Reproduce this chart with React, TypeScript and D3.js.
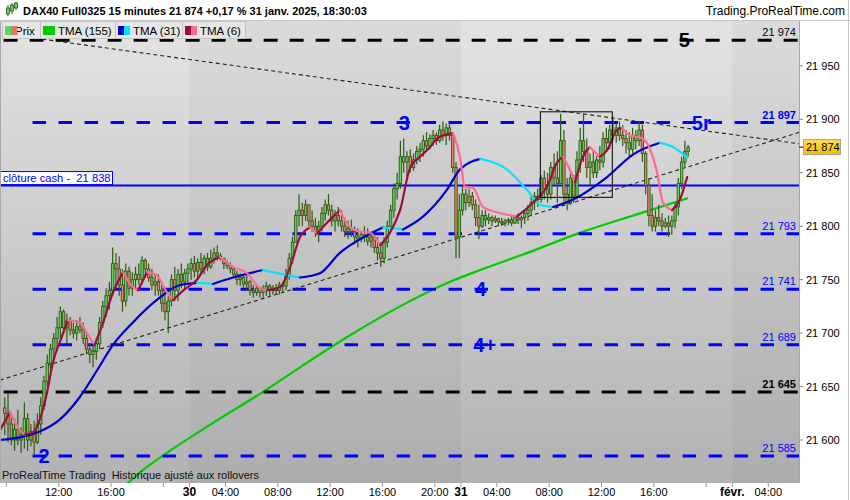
import React, { useEffect } from 'react';
import * as d3 from 'd3';

// ---------- DATA ----------
const FIRST_BAR = 26; // bar index (day 29 01:15 = 0, 83 bars per session)
const FIRST_OPEN = 21630;
const closes = [
  21625, 21615, 21600, 21610, 21600, 21605, 21620, 21600, 21608, 21598,
  21615, 21632, 21655, 21672, 21685, 21695, 21705, 21720, 21705, 21712,
  21703, 21700, 21706, 21703, 21695, 21685, 21680, 21683, 21690, 21710,
  21725, 21735, 21740, 21765, 21760, 21745, 21730, 21758, 21742, 21750,
  21755, 21750, 21768, 21760, 21752, 21745, 21748, 21740, 21728, 21720,
  21730, 21750, 21740, 21755, 21748, 21756, 21760, 21765, 21758, 21766,
  21760, 21770, 21762, 21770, 21775, 21772, 21770, 21765, 21763, 21760,
  21755, 21750, 21752, 21746, 21748, 21740, 21738, 21742, 21738, 21740,
  21744, 21740, 21742, 21740, 21745, 21744, 21755, 21770, 21785, 21810,
  21815, 21810, 21820, 21805, 21800, 21795, 21800, 21812, 21820, 21815,
  21805, 21810, 21805, 21800, 21795, 21798, 21795, 21790, 21788, 21792,
  21790, 21786, 21790, 21780, 21775, 21770, 21785, 21800, 21815, 21835,
  21840, 21865, 21860, 21865, 21855, 21862, 21870, 21872, 21880, 21875,
  21882, 21885, 21880, 21890, 21885, 21892, 21885, 21855, 21790, 21815,
  21830, 21822, 21828, 21820, 21808, 21800, 21810, 21806, 21808, 21805,
  21807, 21804, 21803, 21805, 21806, 21803, 21808, 21806, 21808, 21812,
  21815, 21822, 21828, 21825, 21845, 21835, 21830, 21855, 21845, 21840,
  21880, 21830, 21822, 21845, 21828, 21862, 21880, 21870, 21855, 21860,
  21850, 21862, 21860, 21882, 21878, 21890, 21885, 21892, 21885, 21882,
  21878, 21872, 21885, 21880, 21890, 21868, 21838, 21810, 21800, 21808,
  21805, 21800, 21803, 21800, 21805, 21818, 21840, 21860, 21870, 21874,
];
const highs = [
  21640, 21643, 21625, 21620, 21628, 21612, 21635, 21625, 21615, 21618,
  21625, 21640, 21660, 21680, 21690, 21700, 21715, 21725, 21722, 21718,
  21715, 21710, 21712, 21715, 21710, 21700, 21690, 21688, 21695, 21715,
  21730, 21742, 21748, 21780, 21775, 21772, 21760, 21765, 21762, 21757,
  21762, 21765, 21772, 21770, 21765, 21760, 21755, 21755, 21745, 21740,
  21735, 21755, 21762, 21760, 21765, 21760, 21765, 21770, 21772, 21770,
  21775, 21773, 21775, 21778, 21780, 21782, 21775, 21770, 21768, 21766,
  21762, 21758, 21756, 21755, 21754, 21750, 21745, 21745, 21742, 21745,
  21748, 21746, 21745, 21746, 21748, 21748, 21760, 21775, 21790, 21815,
  21830, 21822, 21825, 21820, 21815, 21808, 21805, 21818, 21825, 21830,
  21820, 21815, 21818, 21815, 21808, 21805, 21806, 21800, 21798, 21795,
  21800, 21798, 21795, 21793, 21790, 21785, 21790, 21805, 21820, 21840,
  21850, 21880, 21882, 21870, 21872, 21868, 21875, 21878, 21885, 21888,
  21886, 21890, 21888, 21895, 21898, 21896, 21897, 21888, 21860, 21830,
  21838, 21835, 21835, 21832, 21825, 21820, 21815, 21815, 21812, 21810,
  21810, 21808, 21808, 21807, 21808, 21810, 21810, 21812, 21810, 21815,
  21820, 21828, 21832, 21835, 21848, 21852, 21850, 21860, 21868, 21870,
  21905, 21890, 21845, 21850, 21848, 21870, 21892, 21905, 21882, 21868,
  21872, 21866, 21875, 21888, 21892, 21895, 21900, 21896, 21898, 21895,
  21890, 21888, 21892, 21890, 21898, 21895, 21870, 21845, 21830, 21815,
  21820, 21812, 21808, 21810, 21810, 21822, 21845, 21865, 21880, 21876,
];
const lows = [
  21605, 21598, 21595, 21590, 21595, 21588, 21592, 21590, 21594, 21585,
  21596, 21605, 21628, 21650, 21660, 21675, 21685, 21695, 21700, 21690,
  21698, 21695, 21693, 21700, 21690, 21680, 21672, 21668, 21675, 21685,
  21705, 21715, 21722, 21735, 21740, 21735, 21720, 21725, 21735, 21735,
  21742, 21745, 21748, 21752, 21748, 21740, 21735, 21735, 21720, 21712,
  21700, 21725, 21730, 21730, 21742, 21740, 21745, 21750, 21752, 21750,
  21755, 21755, 21758, 21760, 21765, 21768, 21768, 21760, 21760, 21756,
  21752, 21745, 21744, 21742, 21740, 21735, 21733, 21735, 21733, 21733,
  21735, 21735, 21736, 21736, 21736, 21738, 21740, 21750, 21765, 21785,
  21800, 21800, 21805, 21800, 21795, 21790, 21785, 21795, 21805, 21810,
  21800, 21795, 21800, 21795, 21790, 21788, 21790, 21783, 21780, 21785,
  21785, 21782, 21780, 21775, 21768, 21762, 21765, 21780, 21795, 21808,
  21825, 21835, 21850, 21845, 21850, 21852, 21858, 21860, 21865, 21870,
  21872, 21875, 21876, 21878, 21880, 21876, 21880, 21850, 21770, 21770,
  21810, 21815, 21818, 21815, 21800, 21788, 21798, 21800, 21802, 21800,
  21803, 21800, 21800, 21800, 21801, 21800, 21802, 21802, 21798, 21802,
  21805, 21810, 21815, 21818, 21822, 21825, 21822, 21825, 21838, 21822,
  21840, 21820, 21815, 21820, 21822, 21825, 21850, 21860, 21845, 21838,
  21845, 21845, 21852, 21855, 21870, 21872, 21880, 21878, 21880, 21875,
  21868, 21865, 21868, 21872, 21875, 21860, 21830, 21800, 21795, 21795,
  21800, 21795, 21798, 21790, 21792, 21798, 21810, 21835, 21855, 21865,
];

// moving averages: [bar index, price]
const tma155: [number, number][] = [
  [61.3, 21553], [68.3, 21572], [75.6, 21588], [89.7, 21616], [105.0, 21645],
  [116.3, 21668], [131.6, 21698], [146.9, 21725], [162.2, 21748], [171.4, 21759],
  [186.7, 21776], [202.0, 21794], [220.3, 21812], [234.7, 21826],
];
const tma31: [number, number][] = [
  [24.5, 21600], [36.7, 21608], [42.8, 21619], [48.9, 21640], [54.2, 21665],
  [59.1, 21689], [65.2, 21710], [72.5, 21731], [79.6, 21745], [84.8, 21747],
  [89.7, 21746], [95.8, 21752], [104.9, 21759], [111.1, 21755], [116.3, 21752],
  [122.4, 21756], [128.5, 21775], [131.6, 21782], [141.7, 21799], [147.8, 21797],
  [153.9, 21809], [161.2, 21834], [165.2, 21853], [171.4, 21863], [179.6, 21853],
  [185.7, 21834], [189.7, 21820], [193.7, 21818], [199.8, 21825], [210.2, 21846],
  [218.1, 21867], [226.4, 21878], [230.4, 21874], [234.7, 21864],
];
const tma6: [number, number][] = [
  [24.5, 21609], [27.6, 21626], [30.7, 21609], [32.2, 21605], [34.7, 21607],
  [36.7, 21619], [38.9, 21644], [40.7, 21672], [43.5, 21697], [45.3, 21712],
  [49.0, 21710], [51.1, 21700], [53.5, 21689], [56.1, 21710], [59.1, 21738],
  [62.2, 21757], [65.2, 21743], [66.8, 21740], [69.5, 21757], [72.5, 21754],
  [75.6, 21738], [77.5, 21731], [80.6, 21740], [84.8, 21750], [87.9, 21764],
  [91.8, 21771], [95.8, 21762], [100.1, 21756], [104.0, 21742], [106.2, 21740],
  [110.2, 21743], [113.3, 21762], [116.3, 21790], [119.4, 21799], [121.5, 21793],
  [126.4, 21809], [128.5, 21815], [131.6, 21799], [134.6, 21795], [137.7, 21794],
  [140.8, 21782], [143.8, 21794], [146.9, 21815], [150.0, 21855], [153.0, 21865],
  [156.1, 21874], [158.2, 21882], [163.1, 21887], [165.2, 21865], [166.7, 21837],
  [169.2, 21836], [172.2, 21818], [176.5, 21813], [182.6, 21809], [187.5, 21822],
  [191.8, 21837], [194.8, 21859], [196.7, 21865], [198.8, 21853], [200.4, 21841],
  [202.8, 21865], [204.9, 21874], [208.0, 21865], [210.2, 21871], [213.2, 21890],
  [214.8, 21892], [217.2, 21885], [220.3, 21883], [222.4, 21878], [225.5, 21850],
  [227.3, 21822], [230.1, 21815], [232.5, 21825], [234.7, 21846],
];

// horizontal levels
const levelPrices = [21974, 21897, 21793, 21741, 21689, 21645, 21585];
const levelIsBlack = [true, false, false, false, false, true, false];
const levelBoldTag = [false, true, false, false, false, true, false];
const levelStartBar = [-30, 34.5, 34.5, 34.5, 34.5, -30, 34.5];
const cashClose = 21838;
const lastPrice = 21874;

// wave labels: [text, bar index, price]
const waveText = ['5', '3', '5r', '4', '4+', '2'];
const waveBar = [233.8, 148.2, 239.0, 171.5, 172.8, 38.0];
const wavePrice = [21974, 21897, 21897, 21741, 21689, 21585];

// trend lines [bar, price]
const trendUp: [number, number][] = [[24.5, 21656], [269.2, 21888]];
const trendDown: [number, number][] = [[37.5, 21975], [269.2, 21877]];
const boxBars = [189.8, 211.8];
const boxPrices = [21907, 21827];

// x ticks: session day, hour, label
const tickDay = [0, 0, 0, 0, 1, 1, 1, 1, 1, 1, 2, 2, 2, 2, 2, 2, 3, 3];
const tickHour = [8, 12, 16, 20, 1.25, 4, 8, 12, 16, 20, 1.25, 4, 8, 12, 16, 20, 1.25, 4];
const tickLabel = ['', '12:00', '16:00', '', '30', '04:00', '08:00', '12:00', '16:00', '20:00', '31', '04:00', '08:00', '12:00', '16:00', '', 'févr.', '04:00'];
const yTicks = [21600, 21650, 21700, 21750, 21800, 21850, 21900, 21950];

const legendNames = ['Prix', 'TMA (155)', 'TMA (31)', 'TMA (6)'];

// ---------- LAYOUT ----------
const W = 850, H = 500;
const PL = 0, PR = 799, PT = 20, PB = 483;
const BARS_PER_DAY = 83;
const FONT = '"Liberation Sans", Arial, sans-serif';
const NB = '\u00a0';

const x = d3.scaleLinear().domain([0, BARS_PER_DAY]).range([-81.9, 189.5]);
const y = d3.scaleLinear().domain([21600, 21900]).range([440, 119.3]);
const bx = (i: number) => x(i + 0.5);
const fmt = (v: number) => `${Math.floor(v / 1000)}${NB}${String(Math.round(v) % 1000).padStart(3, '0')}`;

function splitRuns(pts: [number, number][]) {
  const out: { up: boolean; pts: [number, number][] }[] = [];
  let cur: [number, number][] = [pts[0]];
  let sign: boolean | null = null;
  for (let k = 1; k < pts.length; k++) {
    const s = pts[k][1] >= pts[k - 1][1];
    if (sign === null || s === sign) { cur.push(pts[k]); sign = s; }
    else { out.push({ up: sign, pts: cur }); cur = [pts[k - 1], pts[k]]; sign = s; }
  }
  out.push({ up: sign as boolean, pts: cur });
  return out;
}

const lineGen = d3.line<[number, number]>().x(d => bx(d[0])).y(d => y(d[1])).curve(d3.curveMonotoneX);

function MA({ pts, upColor, downColor, w }: { pts: [number, number][]; upColor: string; downColor: string; w: number }) {
  const runs = splitRuns(pts);
  return (
    <g>
      {runs.map((r, k) => (
        <path key={k} d={lineGen(r.pts) || ''} fill="none" stroke={r.up ? upColor : downColor} strokeWidth={w} strokeLinejoin="round" strokeLinecap="round" />
      ))}
    </g>
  );
}

export default function App() {
  useEffect(() => { document.body.style.margin = '0'; }, []);

  const candles = closes.map((c, k) => {
    const i = FIRST_BAR + k;
    const o = k === 0 ? FIRST_OPEN : closes[k - 1];
    return { i, o, c, h: highs[k], l: lows[k] };
  });

  const blueTag = '#0000ff';
  const dayBands = [
    { from: 83, to: 166 },
    { from: 249, to: 332 },
  ];

  const legendX = [2, 40, 115, 182];
  const legendW = [38, 75, 67, 63];
  const swatches: string[][] = [['#5cd65c', '#e8736a'], ['#00cc00', '#00cc00'], ['#0000cc', '#00e5ff'], ['#9e0b3c', '#ff6a90']];

  return (
    <svg width={W} height={H} style={{ position: 'absolute', left: 0, top: 0, display: 'block', fontFamily: FONT }}>
      <defs>
        <linearGradient id="bg" x1="0" y1="0" x2="0" y2="1">
          <stop offset="0" stopColor="#e3e3e3" />
          <stop offset="1" stopColor="#b2b2b2" />
        </linearGradient>
        <linearGradient id="gold" x1="0" y1="0" x2="0" y2="1">
          <stop offset="0" stopColor="#ffe14d" />
          <stop offset="1" stopColor="#f5b800" />
        </linearGradient>
        <clipPath id="plot"><rect x={PL} y={PT} width={PR - PL} height={PB - PT} /></clipPath>
      </defs>
      <rect x={0} y={0} width={W} height={H} fill="#ffffff" />
      {/* plot background */}
      <rect x={PL} y={PT} width={PR - PL} height={PB - PT} fill="url(#bg)" />
      <g clipPath="url(#plot)">
        {dayBands.map((b, k) => (
          <rect key={k} x={x(b.from)} y={PT} width={x(b.to) - x(b.from)} height={PB - PT} fill="#000" opacity={0.03} />
        ))}
        {/* green TMA */}
        <MA pts={tma155} upColor="#00cc00" downColor="#00cc00" w={2.2} />
        {/* horizontal levels */}
        {levelPrices.map((p, k) => (
          <line key={k} x1={bx(levelStartBar[k])} x2={PR} y1={y(p)} y2={y(p)}
            stroke={levelIsBlack[k] ? '#000' : blueTag} strokeWidth={3}
            strokeDasharray={levelIsBlack[k] ? '14 12' : '13.5 12.5'} />
        ))}
        <line x1={PL} x2={PR} y1={y(cashClose)} y2={y(cashClose)} stroke={blueTag} strokeWidth={2} />
        {/* trend lines */}
        <line x1={bx(trendUp[0][0])} y1={y(trendUp[0][1])} x2={bx(trendUp[1][0])} y2={y(trendUp[1][1])} stroke="#222" strokeWidth={1.1} strokeDasharray="4 3" />
        <line x1={bx(trendDown[0][0])} y1={y(trendDown[0][1])} x2={bx(trendDown[1][0])} y2={y(trendDown[1][1])} stroke="#222" strokeWidth={1.1} strokeDasharray="4 3" />
        {/* candles */}
        {candles.map(d => {
          const cx = bx(d.i);
          const up = d.c >= d.o;
          const top = y(Math.max(d.o, d.c));
          const bot = y(Math.min(d.o, d.c));
          return (
            <g key={d.i}>
              <line x1={cx} x2={cx} y1={y(d.h)} y2={y(d.l)} stroke="#2e5a14" strokeWidth={1.2} />
              <rect x={cx - 1.2} y={top} width={2.4} height={Math.max(1, bot - top)} fill={up ? '#5cd65c' : '#ee7d6e'} stroke="#2e5a14" strokeWidth={0.9} />
            </g>
          );
        })}
        <MA pts={tma31} upColor="#0000cc" downColor="#00e5ff" w={2.2} />
        <MA pts={tma6} upColor="#9e0b3c" downColor="#ff6a90" w={2.2} />
        {/* box */}
        <rect x={bx(boxBars[0])} y={y(boxPrices[0])} width={bx(boxBars[1]) - bx(boxBars[0])} height={y(boxPrices[1]) - y(boxPrices[0])} fill="none" stroke="#000" strokeWidth={1} />
        {/* wave labels */}
        {waveText.map((t, k) => (
          <text key={k} x={bx(waveBar[k])} y={y(wavePrice[k]) + 7} textAnchor="middle" fontSize={20} fontWeight="bold" fill={t === '5' ? '#000' : blueTag}>{t}</text>
        ))}
        {/* level tags */}
        {levelPrices.map((p, k) => (
          <text key={k} x={796} y={y(p) - 4} textAnchor="end" fontSize={11} fontWeight={levelBoldTag[k] ? 'bold' : 'normal'} fill={levelIsBlack[k] ? '#000' : blueTag}>{fmt(p)}</text>
        ))}
        {/* cash close tag */}
        <rect x={0.5} y={y(cashClose) - 14} width={112} height={13} fill="#fff" stroke={blueTag} strokeWidth={1} />
        <text x={3} y={y(cashClose) - 3.5} fontSize={11.2} fill={blueTag}>{`clôture cash -${NB}${NB}${fmt(cashClose)}`}</text>
        {/* bottom note */}
        <text x={2} y={479} fontSize={11} fill="#111">{`ProRealTime Trading${NB}${NB}Historique ajusté aux rollovers`}</text>
      </g>
      {/* frame lines */}
      <line x1={PR + 0.5} x2={PR + 0.5} y1={PT} y2={PB} stroke="#a8a8a8" />
      <line x1={0.5} x2={0.5} y1={PT} y2={PB} stroke="#a8a8a8" />
      <line x1={0} x2={W} y1={PT + 0.5} y2={PT + 0.5} stroke="#c8c8c8" />
      <line x1={W - 1.5} x2={W - 1.5} y1={0} y2={H} stroke="#c8c8c8" />
      {/* right axis */}
      {yTicks.map(v => (
        <g key={v}>
          <line x1={PR} x2={PR + 4} y1={y(v)} y2={y(v)} stroke="#888" />
          <text x={806} y={y(v) + 4} fontSize={11} fill="#000">{fmt(v)}</text>
        </g>
      ))}
      <line x1={PR} x2={PR + 5} y1={y(lastPrice)} y2={y(lastPrice)} stroke="#000" />
      <rect x={803.5} y={y(lastPrice) - 7.5} width={37} height={15} fill="url(#gold)" stroke="#a0a0a0" />
      <text x={806} y={y(lastPrice) + 4} fontSize={11} fill="#000">{fmt(lastPrice)}</text>
      {/* bottom axis */}
      {tickDay.map((dd, k) => {
        const px = x(dd * BARS_PER_DAY + (tickHour[k] - 1.25) * 4);
        if (px < 0 || px > PR) return null;
        const bold = tickHour[k] === 1.25;
        return (
          <g key={k}>
            <line x1={px} x2={px} y1={PB} y2={PB + 4} stroke="#999" />
            {tickLabel[k] && (
              <text x={px} y={496} textAnchor="middle" fontSize={bold ? 12 : 11} fontWeight={bold ? 'bold' : 'normal'} fill="#000">{tickLabel[k]}</text>
            )}
          </g>
        );
      })}
      {/* header */}
      <g>
        <line x1={8} x2={8} y1={5} y2={16} stroke="#2e5a14" />
        <rect x={6.5} y={8} width={3} height={6} fill="#5cd65c" stroke="#2e5a14" strokeWidth={0.8} />
        <line x1={12} x2={12} y1={3} y2={14} stroke="#2e5a14" />
        <rect x={10.5} y={5} width={3} height={6} fill="#5cd65c" stroke="#2e5a14" strokeWidth={0.8} />
        <line x1={16} x2={16} y1={2} y2={10} stroke="#2e5a14" />
        <rect x={14.5} y={3} width={3} height={5} fill="#5cd65c" stroke="#2e5a14" strokeWidth={0.8} />
      </g>
      <text x={23} y={15} fontSize={11} fontWeight="bold" fill="#000">DAX40 Full0325 15 minutes 21 874 +0,17 % 31 janv. 2025, 18:30:03</text>
      <text x={845} y={15} textAnchor="end" fontSize={12} fill="#000">Trading.ProRealTime.com</text>
      {/* legend */}
      {legendNames.map((n, k) => (
        <g key={n}>
          <rect x={legendX[k] + 0.5} y={21.5} width={legendW[k]} height={17} fill="#e6e6e6" stroke="#c4c4c4" />
          <text x={legendX[k] + (k === 0 ? 13 : 18)} y={34.5} fontSize={11.5} fill="#000">{n}</text>
          <rect x={legendX[k] + 3} y={26} width={6} height={9} fill={swatches[k][0]} />
          <rect x={legendX[k] + 9} y={26} width={6} height={9} fill={swatches[k][1]} />
        </g>
      ))}
    </svg>
  );
}
